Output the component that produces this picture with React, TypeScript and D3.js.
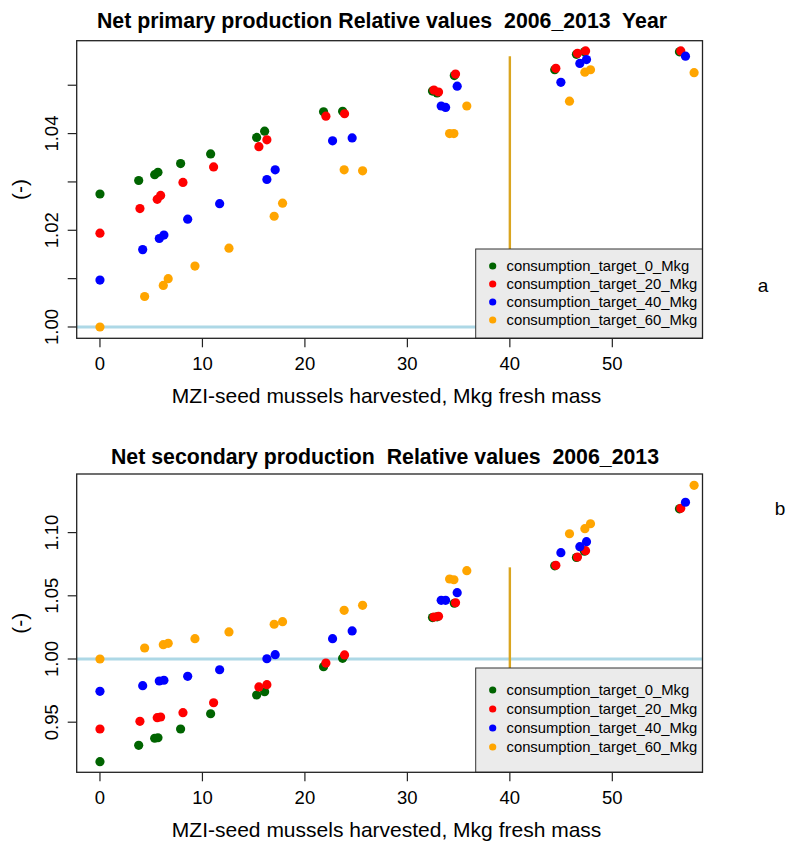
import React from "react";
import * as d3 from "d3";

const seriesNames = [
  "consumption_target_0_Mkg",
  "consumption_target_20_Mkg",
  "consumption_target_40_Mkg",
  "consumption_target_60_Mkg",
];
const seriesColors = ["#006400", "#FF0000", "#0000FF", "#FFA500"];

// harvested MZI-seed mussels (Mkg fresh mass), per consumption target
const xTarget0 = [0, 3.78, 5.34, 5.66, 7.87, 10.8, 15.29, 16.07, 21.82, 23.68, 32.45, 32.9, 34.58, 44.38, 46.5, 47.28, 56.55];
const xTarget20 = [0, 3.9, 5.59, 5.92, 8.1, 11.09, 15.51, 16.29, 22.05, 23.87, 32.59, 33.04, 34.7, 44.49, 46.6, 47.39, 56.68];
const xTarget40 = [0, 4.17, 5.79, 6.24, 8.56, 11.68, 16.29, 17.1, 22.7, 24.61, 33.3, 33.73, 34.86, 44.98, 46.83, 47.48, 57.14];
const xTarget60 = [0, 4.36, 6.18, 6.66, 9.27, 12.59, 17.0, 17.82, 23.83, 25.63, 34.12, 34.54, 35.8, 45.82, 47.32, 47.87, 57.98];

// Net primary production, relative values
const primary0 = [1.0275, 1.0303, 1.0315, 1.032, 1.0338, 1.0358, 1.0392, 1.0405, 1.0445, 1.0446, 1.0488, 1.0484, 1.052, 1.0532, 1.0564, 1.0569, 1.0569];
const primary20 = [1.0194, 1.0245, 1.0264, 1.0272, 1.0299, 1.0331, 1.0373, 1.0387, 1.0436, 1.0441, 1.049, 1.0486, 1.0523, 1.0535, 1.0566, 1.0571, 1.0571];
const primary40 = [1.0097, 1.016, 1.0183, 1.019, 1.0223, 1.0255, 1.0305, 1.0325, 1.0385, 1.0391, 1.0457, 1.0454, 1.0498, 1.0506, 1.0545, 1.0553, 1.056];
const primary60 = [1.0, 1.0063, 1.0086, 1.01, 1.0126, 1.0163, 1.0229, 1.0256, 1.0325, 1.0323, 1.04, 1.04, 1.0457, 1.0467, 1.0527, 1.0532, 1.0526];

// Net secondary production, relative values
const secondary0 = [0.9188, 0.9317, 0.9373, 0.9377, 0.9446, 0.9567, 0.9715, 0.9741, 0.9939, 1.0005, 1.0328, 1.0334, 1.0441, 1.0737, 1.0803, 1.0853, 1.1188];
const secondary20 = [0.9446, 0.9507, 0.9536, 0.9541, 0.9575, 0.9654, 0.9779, 0.9797, 0.9968, 1.0032, 1.0332, 1.0338, 1.0445, 1.0741, 1.0807, 1.0857, 1.1192];
const secondary40 = [0.9744, 0.9789, 0.9826, 0.9832, 0.9863, 0.9915, 1.0002, 1.0034, 1.0161, 1.0222, 1.0464, 1.0464, 1.0525, 1.0841, 1.0889, 1.0928, 1.124];
const secondary60 = [1.0, 1.0087, 1.0113, 1.0124, 1.0161, 1.0214, 1.0275, 1.0295, 1.0385, 1.0425, 1.0633, 1.0627, 1.0699, 1.0991, 1.1031, 1.107, 1.1374];

const xTicks = [0, 10, 20, 30, 40, 50];
const primaryTicks = [1.0, 1.01, 1.02, 1.03, 1.04, 1.05];
const primaryTickLabels = ["1.00", "", "1.02", "", "1.04", ""];
const secondaryTicks = [0.95, 1.0, 1.05, 1.1];
const secondaryTickLabels = ["0.95", "1.00", "1.05", "1.10"];

const referenceLevel = 1.0;
const thresholdX = 40;
const primaryThresholdTop = 1.056;
const secondaryThresholdTop = 1.0725;

const xValues = [xTarget0, xTarget20, xTarget40, xTarget60];
const FONT = "'Liberation Sans', Arial, Helvetica, sans-serif";

type PanelProps = {
  title: string;
  titleX: number;
  titleY: number;
  top: number;
  bottom: number;
  yDomain: [number, number];
  yTicks: number[];
  yTickLabels: string[];
  series: number[][];
  thresholdTop: number;
  legendTop: number;
  legendRowStart: number;
  legendRowStep: number;
  letter: string;
  letterX: number;
  letterY: number;
};

const boxLeft = 76.7;
const boxRight = 702.5;

function Panel(p: PanelProps) {
  const x = d3.scaleLinear().domain([-2.27, 58.8]).range([boxLeft, boxRight]);
  const y = d3.scaleLinear().domain(p.yDomain).range([p.bottom, p.top]);
  const tick = 9;
  const legendLeft = 475.7;
  return (
    <g>
      <text x={p.titleX} y={p.titleY} textAnchor="middle" fontFamily={FONT} fontWeight="bold" fontSize={21.3} style={{ whiteSpace: "pre" }}>
        {p.title}
      </text>
      {/* reference line */}
      <line x1={boxLeft} x2={boxRight} y1={y(referenceLevel)} y2={y(referenceLevel)} stroke="#ADD8E6" strokeWidth={2.8} />
      {/* threshold line */}
      <line x1={x(thresholdX)} x2={x(thresholdX)} y1={p.bottom} y2={y(p.thresholdTop)} stroke="#DAA520" strokeWidth={2.4} />
      {p.series.map((vals, si) => (
        <g key={si} fill={seriesColors[si]}>
          {vals.map((v, i) => (
            <circle key={i} cx={x(xValues[si][i])} cy={y(v)} r={4.6} />
          ))}
        </g>
      ))}
      {/* legend */}
      <rect x={legendLeft} y={p.legendTop} width={boxRight - legendLeft} height={p.bottom - p.legendTop} fill="#EBEBEB" stroke="#333" strokeWidth={1} />
      {seriesNames.map((n, i) => (
        <g key={n}>
          <circle cx={492.7} cy={p.legendRowStart + i * p.legendRowStep} r={3.6} fill={seriesColors[i]} />
          <text x={506.5} y={p.legendRowStart + i * p.legendRowStep + 5.2} fontFamily={FONT} fontSize={14.8} fill="#000">
            {n}
          </text>
        </g>
      ))}
      {/* box */}
      <rect x={boxLeft} y={p.top} width={boxRight - boxLeft} height={p.bottom - p.top} fill="none" stroke="#222" strokeWidth={1.3} />
      {/* x axis */}
      {xTicks.map((t) => (
        <g key={t}>
          <line x1={x(t)} x2={x(t)} y1={p.bottom} y2={p.bottom + tick} stroke="#222" strokeWidth={1.2} />
          <text x={x(t)} y={p.bottom + 31.5} textAnchor="middle" fontFamily={FONT} fontSize={18.5}>
            {t}
          </text>
        </g>
      ))}
      <text x={(boxLeft + boxRight) / 2 - 3} y={p.bottom + 65} textAnchor="middle" fontFamily={FONT} fontSize={21}>
        MZI-seed mussels harvested, Mkg fresh mass
      </text>
      {/* y axis */}
      {p.yTicks.map((t, i) => (
        <g key={t}>
          <line x1={boxLeft - tick} x2={boxLeft} y1={y(t)} y2={y(t)} stroke="#222" strokeWidth={1.2} />
          {p.yTickLabels[i] && (
            <text
              transform={`translate(${boxLeft - 18.5},${y(t)}) rotate(-90)`}
              textAnchor="middle"
              fontFamily={FONT}
              fontSize={18.5}
            >
              {p.yTickLabels[i]}
            </text>
          )}
        </g>
      ))}
      <text
        transform={`translate(27,${(p.top + p.bottom) / 2}) rotate(-90)`}
        textAnchor="middle"
        fontFamily={FONT}
        fontSize={21}
      >
        (-)
      </text>
      <text x={p.letterX} y={p.letterY} textAnchor="middle" fontFamily={FONT} fontSize={19}>
        {p.letter}
      </text>
    </g>
  );
}

export default function App() {
  return (
    <svg
      width={788}
      height={843}
      viewBox="0 0 788 843"
      style={{ display: "block", position: "absolute", left: 0, top: 0, background: "#fff" }}
    >
      <rect x={0} y={0} width={788} height={843} fill="#fff" />
      <Panel
        title="Net primary production Relative values  2006_2013  Year"
        titleX={382}
        titleY={28}
        top={40.7}
        bottom={338.3}
        yDomain={[0.99766, 1.05921]}
        yTicks={primaryTicks}
        yTickLabels={primaryTickLabels}
        series={[primary0, primary20, primary40, primary60]}
        thresholdTop={primaryThresholdTop}
        legendTop={249}
        legendRowStart={266}
        legendRowStep={18}
        letter="a"
        letterX={763}
        letterY={292}
      />
      <Panel
        title="Net secondary production  Relative values  2006_2013"
        titleX={385}
        titleY={464}
        top={474}
        bottom={772.3}
        yDomain={[0.91036, 1.14636]}
        yTicks={secondaryTicks}
        yTickLabels={secondaryTickLabels}
        series={[secondary0, secondary20, secondary40, secondary60]}
        thresholdTop={secondaryThresholdTop}
        legendTop={668}
        legendRowStart={690}
        legendRowStep={19}
        letter="b"
        letterX={780}
        letterY={515}
      />
    </svg>
  );
}
